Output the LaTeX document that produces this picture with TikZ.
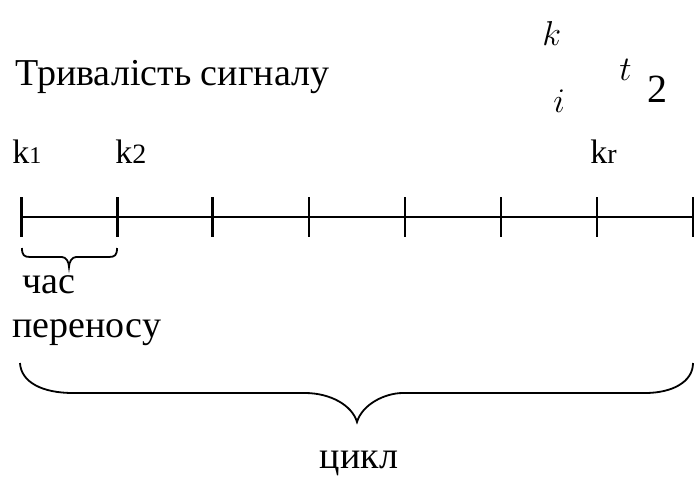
\documentclass[tikz,border=0pt]{standalone}
\usepackage{fontspec}
\setmainfont{Liberation Serif}
\usetikzlibrary{positioning}

\tikzset{
  lbl/.style={anchor=base west, font=\fontsize{19}{21}\selectfont},
  klbl/.style={anchor=base west, font=\fontsize{17}{19}\selectfont},
  ital/.style={anchor=base west, font=\fontsize{17}{19}\selectfont},
  axis/.style={line width=1pt},
  bigtick/.style={line width=1.5pt},
  smalltick/.style={line width=0.8pt},
  curly/.style={line width=0.9pt}
}

\begin{document}
\begin{tikzpicture}[x=0.5pt, y=-0.5pt, inner sep=0pt]
\useasboundingbox[fill=white] (0,0) rectangle (699,483);
% header
\node[lbl] (title) at (15,85) {Тривалість сигналу};
\node[anchor=base west, font=\fontsize{27}{29}\selectfont, xscale=0.75] (sigma) at (531,87) {$\mathbf{\Sigma}$};
\node[ital] (sup) at (542,45) {$k$};
\node[ital] (sub) at (553,112) {$i$};
\node[ital] (tt) at (619,80) {$t$};
\node[anchor=base west, font=\fontsize{20}{22}\selectfont] (two) at (647,102) {2};
% labels over the ticks
\node[klbl] (k1) at (12,163) {k{\fontsize{12}{13}\selectfont 1}};
\node[klbl] (k2) at (115,163) {k{\fontsize{14}{15}\selectfont 2}};
\node[klbl] (kr) at (590,163) {k{\fontsize{14}{15}\selectfont r}};
% time axis
\coordinate (a0) at (21,217);
\coordinate (a7) at (693,217);
\draw[axis] (a0) -- (a7);
\draw[bigtick] (21,197) -- (21,237);
\draw[bigtick] (117,197) -- (117,237);
\draw[bigtick] (212,197) -- (212,237);
\draw[smalltick] (309,197) -- (309,237);
\draw[smalltick] (405,197) -- (405,237);
\draw[smalltick] (501,197) -- (501,237);
\draw[smalltick] (597,197) -- (597,237);
\draw[smalltick] (693,197) -- (693,237);
% transfer brace
\draw[curly] (22,248) .. controls (22,255) and (24,257) .. (30,257) -- (62,257)
  .. controls (66,257) and (69,262) .. (69,267)
  .. controls (69,262) and (72,257) .. (76,257) -- (109,257)
  .. controls (115,257) and (117,255) .. (117,248);
\node[lbl] (chas) at (22,293) {час};
\node[lbl] (perenos) at (12,337) {переносу};
% cycle brace
\draw[curly] (20,363) .. controls (21,382) and (42,393) .. (73,393) -- (305,393)
  .. controls (330,393) and (352,405) .. (357,422)
  .. controls (362,405) and (384,393) .. (403,393) -- (645,393)
  .. controls (672,393) and (693,382) .. (693,363);
\node[lbl, anchor=base] (cykl) at (359,468) {цикл};
\end{tikzpicture}
\end{document}
